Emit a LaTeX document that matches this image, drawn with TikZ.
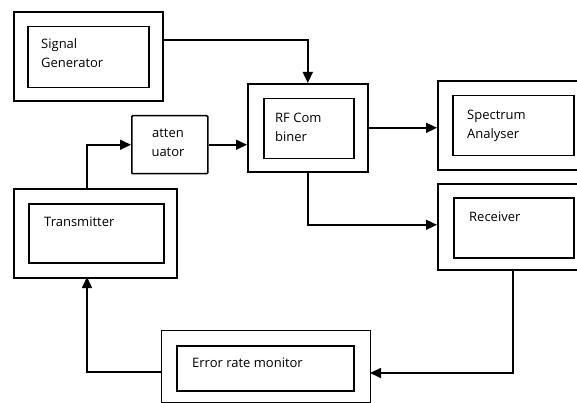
\documentclass[tikz,border=0pt]{standalone}
\usepackage{fontspec}
\setmainfont{Open Sans}
\usetikzlibrary{arrows.meta,calc}
\begin{document}
\begin{tikzpicture}[x=1pt,y=-1pt,
  outerbox/.style={draw=black,line width=1.6pt,rectangle,anchor=north west,inner sep=0pt},
  innerbox/.style={draw=black,line width=1.5pt,rectangle,anchor=north west,inner sep=0pt},
  lbl/.style={font=\fontsize{13}{19}\selectfont,align=left,anchor=west,inner sep=0pt},
  conn/.style={line width=1.6pt,-{Triangle[length=11pt,width=10pt]}},
  wire/.style={line width=1.6pt}]
\useasboundingbox (0,0) rectangle (577,403);
\clip (0,0) rectangle (577,403);
% Signal generator
\node[outerbox,minimum width=149pt,minimum height=89pt] (sg) at (13,11) {};
\node[innerbox,minimum width=121pt,minimum height=61pt] (sgi) at (27,26) {};
\node[lbl] (sgt) at (41,53) {Signal\\Generator};
% RF combiner
\node[outerbox,minimum width=120pt,minimum height=88pt] (rf) at (247,83) {};
\node[innerbox,minimum width=90pt,minimum height=60pt] (rfi) at (263,98) {};
\node[lbl] (rft) at (275,127) {RF Com\\biner};
% Attenuator
\node[outerbox,line width=1.5pt,minimum width=76pt,minimum height=58pt,rounded corners=1pt] (att) at (131,115) {};
\node[lbl,align=center,anchor=center] (attt) at (168,143) {atten\\uator};
% Spectrum analyser
\node[outerbox,minimum width=152pt,minimum height=89pt] (sa) at (437,80) {};
\node[innerbox,minimum width=121pt,minimum height=60pt] (sai) at (452,95) {};
\node[lbl] (sat) at (467,126) {Spectrum\\Analyser};
% Receiver
\node[outerbox,minimum width=152pt,minimum height=86pt] (rx) at (437,183) {};
\node[innerbox,minimum width=120pt,minimum height=60pt] (rxi) at (453,197) {};
\node[lbl] (rxt) at (469,217) {Receiver};
% Transmitter
\node[outerbox,minimum width=163pt,minimum height=89pt] (tx) at (13,188) {};
\node[innerbox,minimum width=135pt,minimum height=59pt] (txi) at (28,203) {};
\node[lbl] (txt) at (44,222) {Transmitter};
% Error rate monitor
\node[outerbox,line width=1.3pt,minimum width=209pt,minimum height=72pt] (erm) at (161,330) {};
\node[innerbox,minimum width=177pt,minimum height=45pt] (ermi) at (176,345) {};
\node[lbl] (ermt) at (192,363) {Error rate monitor};
% connectors
\coordinate (sgout) at (162,40);
\coordinate (txtop) at (87,188);
\coordinate (txbot) at (87,277);
\coordinate (ermin) at (370,373);
\coordinate (ermout) at (161,372);
\coordinate (rxbot) at (513,269);
\draw[conn] (sgout) -| (rf.north);
\draw[conn] (txtop) |- (att.west);
\draw[conn] (att.east) -- (att.east -| rf.west);
\draw[conn] (rf.east) -- (rf.east -| sa.west);
\draw[conn] (rf.south) |- ([yshift=2pt]rx.west);
\draw[conn] (rxbot) |- (ermin);
\draw[conn] (ermout) -| (txbot);
\end{tikzpicture}
\end{document}
